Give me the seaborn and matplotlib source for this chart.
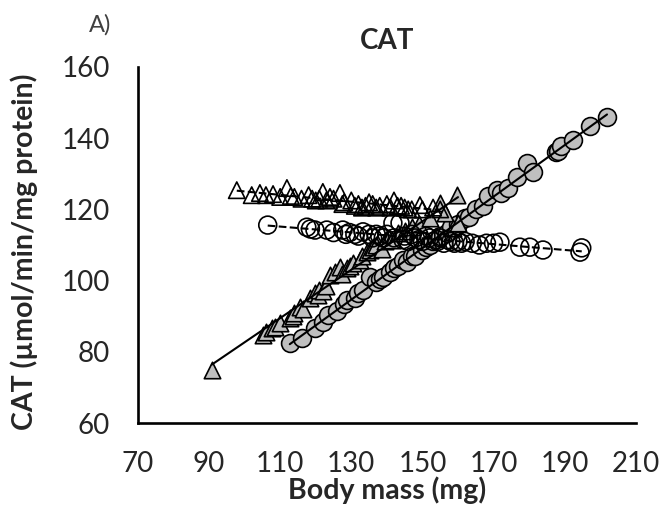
import numpy as np
import pandas as pd
import matplotlib.pyplot as plt
import seaborn as sns

# --- values ---
grey_circle_x = [112.7, 116, 119.8, 122, 123.4, 126, 128, 128.8, 131, 132, 133.3, 135.2, 137, 138,
                 139, 140.8, 142, 143, 144.5, 145.6, 147, 148, 150, 151, 152, 154, 155, 157, 158,
                 160, 162, 163, 165, 167, 168.4, 171, 172, 174, 176.5, 179.3, 181, 187.5, 188,
                 189, 192.3, 197.2, 201.9]
grey_circle_y = [82.5, 84, 86.7, 88.5, 90.3, 91.5, 93.5, 94.5, 95, 96.5, 97.4, 101, 99.5, 100.5,
                 101, 102.4, 103.5, 104, 105.8, 105.2, 107, 107, 108.5, 109.5, 110, 111, 112.5,
                 113.5, 115, 116, 117.5, 118, 120, 121, 123.8, 125.4, 124.5, 126, 129.1, 133,
                 130.5, 136, 136.5, 137.8, 139.5, 143.4, 146]

grey_tri_x = [90.8, 105.1, 106, 107.7, 108.5, 110, 112.7, 113.5, 114, 115.5, 116.5, 118.4, 119.8,
              120.5, 121, 122, 123, 124, 125.4, 126.8, 127.5, 128.8, 129.5, 130.5, 132.4, 133,
              134.4, 135.2, 136, 137, 138.6, 139.5, 140.5, 141.5, 143, 145, 147, 149, 152,
              154.9, 156.3, 158.6, 159.7, 160]
grey_tri_y = [74.9, 84.7, 85.5, 86.7, 87, 88, 89.5, 90, 91, 92.6, 92, 95, 96.5, 96, 97.5, 97,
              98.5, 101.6, 102.4, 103.8, 102, 103.5, 104, 105, 105.8, 107, 108, 108.6, 109.4,
              110, 109, 111, 112, 111.5, 113.5, 114, 115, 116, 117.5, 121.8, 119, 114.8, 124,
              116.2]

open_circle_x = [106.5, 117.5, 118.5, 119.8, 123.1, 125, 127.6, 128.5, 129.5, 131, 132, 133.3,
                 135, 136, 137, 138, 139, 140, 141.7, 142, 143.7, 144.5, 145, 146, 147, 148,
                 149, 150, 151, 152, 153, 154, 155, 156, 157, 158, 159, 160, 161, 162, 164,
                 166, 168, 170, 171.8, 177.4, 180.2, 183.9, 194.3, 194.8]
open_circle_y = [115.6, 115, 114.5, 114.2, 114.2, 113.5, 114.2, 113, 113.5, 113, 112.5, 113.7,
                 113, 112, 113, 112.5, 112, 113, 116.2, 112, 116.2, 111.5, 112.5, 111, 113, 112,
                 111.5, 111, 112.5, 112, 111, 111.5, 112, 110.5, 111.5, 111, 110.5, 111, 110.5,
                 111, 110.5, 110, 110.5, 110.5, 110.8, 109.4, 109.4, 108.6, 108, 109.2]

open_tri_x = [97.8, 102, 104.3, 106, 108, 110, 111.9, 113, 114, 116, 118, 119, 120, 121, 122,
              123, 124, 125, 126.8, 127.5, 128, 130, 131, 132, 133, 134, 135, 136, 137, 138,
              140, 141, 142, 143, 144, 145, 146, 147, 149.3, 150, 153, 155]
open_tri_y = [125.4, 124, 124.6, 124, 124.3, 123.5, 126, 123.8, 123.5, 123, 124, 123, 122.5, 123,
              124.9, 122.5, 123.5, 123, 124.6, 121.5, 122, 122.5, 121, 121.5, 120.5, 121, 122,
              121.5, 120.5, 121, 121.5, 120.5, 122.5, 121, 121, 120.5, 120, 120, 121.2, 120,
              120.5, 120]

x_ticks = [70, 90, 110, 130, 150, 170, 190, 210]
y_ticks = [60, 80, 100, 120, 140, 160]

sns.set_style('white')
plt.rcParams['font.family'] = ['Lato', 'DejaVu Sans']

GREY = '#bfbfbf'
fig, ax = plt.subplots(figsize=(6.63, 5.11), dpi=100)
fig.subplots_adjust(left=0.208, right=0.959, top=0.869, bottom=0.172)

series = [
    (grey_circle_x, grey_circle_y, 'o', GREY, '-', 165),
    (grey_tri_x, grey_tri_y, '^', GREY, '-', 140),
    (open_circle_x, open_circle_y, 'o', 'none', '--', 165),
    (open_tri_x, open_tri_y, '^', 'none', '--', 140),
]
for xs, ys, mk, fc, ls, size in series:
    df = pd.DataFrame({'x': xs, 'y': ys})
    sns.regplot(data=df, x='x', y='y', ax=ax, ci=None, marker=mk,
                scatter_kws={'s': size, 'facecolor': fc, 'edgecolor': 'black',
                             'linewidths': 1.2, 'alpha': 1},
                line_kws={'color': 'black', 'lw': 1.5, 'ls': ls})

ax.set_xlim(70, 210)
ax.set_ylim(60, 160)
ax.set_xticks(x_ticks)
ax.set_yticks(y_ticks)
for side in ['top', 'right']:
    ax.spines[side].set_visible(False)
for side in ['left', 'bottom']:
    ax.spines[side].set_linewidth(1.9)
    ax.spines[side].set_color('black')
ax.tick_params(axis='both', direction='out', length=7, width=1.9, color='black',
               labelsize=20, pad=13)

ax.set_xlabel('Body mass (mg)', fontsize=20.5, fontweight='bold')
ax.set_ylabel('CAT (µmol/min/mg protein)', fontsize=20.5, fontweight='bold')
ax.xaxis.set_label_coords(0.5, -0.15)
ax.yaxis.set_label_coords(-0.20, 0.48)
ax.set_title('CAT', fontsize=20, fontweight='bold', pad=13)
fig.text(0.151, 0.951, 'A)', fontsize=17, color='#404040', ha='center', va='center')

fig.savefig('out.png', dpi=100)
